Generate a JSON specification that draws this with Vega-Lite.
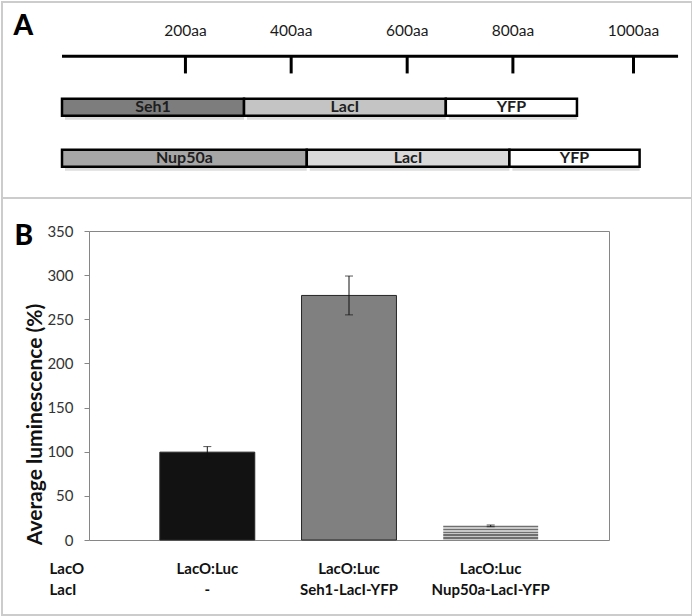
{
  "$schema": "https://vega.github.io/schema/vega-lite/v6.json",
  "padding": 1,
  "background": "white",
  "spacing": 0,
  "bounds": "flush",
  "resolve": {"scale": {"fill": "independent", "color": "independent", "stroke": "independent"}},
  "config": {"view": {"stroke": "#cccccc", "strokeWidth": 2}, "font": "Lato"},
  "datasets": {
    "ruler": [{"start": 0, "end": 1078}],
    "ticks": [
      {"aa": 216, "label": "200aa"},
      {"aa": 401, "label": "400aa"},
      {"aa": 604, "label": "600aa"},
      {"aa": 789, "label": "800aa"},
      {"aa": 1000, "label": "1000aa"}
    ],
    "segments": [
      {"construct": "Seh1-LacI-YFP", "lane": 1, "part": "Seh1", "key": "Seh1", "start": 0, "end": 318.5},
      {"construct": "Seh1-LacI-YFP", "lane": 1, "part": "LacI", "key": "LacI (Seh1 fusion)", "start": 318.5, "end": 671.6},
      {"construct": "Seh1-LacI-YFP", "lane": 1, "part": "YFP", "key": "YFP (Seh1 fusion)", "start": 671.6, "end": 901.1},
      {"construct": "Nup50a-LacI-YFP", "lane": 2, "part": "Nup50a", "key": "Nup50a", "start": 0, "end": 428.3},
      {"construct": "Nup50a-LacI-YFP", "lane": 2, "part": "LacI", "key": "LacI (Nup50a fusion)", "start": 428.3, "end": 782.9},
      {"construct": "Nup50a-LacI-YFP", "lane": 2, "part": "YFP", "key": "YFP (Nup50a fusion)", "start": 782.9, "end": 1010.7}
    ],
    "luminescence": [
      {"condition": "LacO:Luc|-", "mean": 99.5, "err": 6.3},
      {"condition": "LacO:Luc|Seh1-LacI-YFP", "mean": 277, "err": 22},
      {"condition": "LacO:Luc|Nup50a-LacI-YFP", "mean": 16, "err": 1}
    ]
  },
  "vconcat": [
    {
      "width": 690,
      "height": 196,
      "layer": [
        {
          "data": {"name": "ruler"},
          "mark": {"type": "rule", "color": "#000000", "strokeWidth": 3},
          "encoding": {
            "x": {"field": "start", "type": "quantitative", "scale": {"domain": [-105, 1102.4], "nice": false, "zero": false}, "axis": null},
            "x2": {"field": "end"},
            "y": {"datum": 0, "type": "quantitative", "scale": {"domain": [-0.9674, 2.679], "nice": false, "zero": false, "reverse": true},
              "axis": {"orient": "left", "domain": false, "ticks": false, "labels": false, "grid": false,
                "title": "A", "titleFont": "Lato", "titleFontSize": 28, "titleFontWeight": 900, "titleColor": "#000000",
                "titleX": 11, "titleY": 32, "titleAngle": 0, "titleAlign": "left", "titleBaseline": "alphabetic"}}
          }
        },
        {
          "data": {"name": "ticks"},
          "mark": {"type": "rule", "color": "#000000", "strokeWidth": 3},
          "encoding": {
            "x": {"field": "aa", "type": "quantitative", "scale": {"domain": [-105, 1102.4], "nice": false, "zero": false}, "axis": null},
            "y": {"datum": 0, "type": "quantitative"},
            "y2": {"datum": 0.335}
          }
        },
        {
          "data": {"name": "ticks"},
          "mark": {"type": "text", "font": "Lato", "fontSize": 15.5, "color": "#1a1a1a", "baseline": "middle", "align": "center"},
          "encoding": {
            "x": {"field": "aa", "type": "quantitative"},
            "y": {"datum": -0.49, "type": "quantitative"},
            "text": {"field": "label"}
          }
        },
        {
          "data": {"name": "segments"},
          "mark": {"type": "bar", "orient": "horizontal", "height": 17, "fill": "#8a8a8a", "opacity": 0.3, "xOffset": 3, "yOffset": 4},
          "encoding": {
            "x": {"field": "start", "type": "quantitative"},
            "x2": {"field": "end"},
            "y": {"field": "lane", "type": "quantitative"}
          }
        },
        {
          "data": {"name": "segments"},
          "mark": {"type": "bar", "orient": "horizontal", "height": 17, "stroke": "#000000", "strokeWidth": 2.5},
          "encoding": {
            "x": {"field": "start", "type": "quantitative"},
            "x2": {"field": "end"},
            "y": {"field": "lane", "type": "quantitative"},
            "fill": {"field": "key", "type": "nominal", "legend": null,
              "scale": {"domain": ["Seh1", "LacI (Seh1 fusion)", "YFP (Seh1 fusion)", "Nup50a", "LacI (Nup50a fusion)", "YFP (Nup50a fusion)"],
                        "range": ["#7d7d7d", "#c4c4c4", "#ffffff", "#a6a6a6", "#d9d9d9", "#ffffff"]}}
          }
        },
        {
          "data": {"name": "segments"},
          "transform": [{"calculate": "(datum.start + datum.end) / 2", "as": "mid"}],
          "mark": {"type": "text", "font": "Lato", "fontSize": 16, "fontWeight": "bold", "color": "#1e1e1e", "baseline": "middle", "align": "center"},
          "encoding": {
            "x": {"field": "mid", "type": "quantitative"},
            "y": {"field": "lane", "type": "quantitative"},
            "text": {"field": "part"}
          }
        }
      ]
    },
    {
      "width": 690,
      "height": 417,
      "data": {"name": "luminescence"},
      "layer": [
        {
          "mark": {"type": "bar", "strokeWidth": 1},
          "encoding": {
            "x": {"field": "condition", "type": "nominal", "sort": null,
              "scale": {"range": [87, 607], "paddingInner": 0.33, "paddingOuter": 0.5},
              "axis": {"orient": "bottom", "offset": -75, "domainColor": "#868686", "domainWidth": 1, "ticks": false,
                "labelExpr": "split(datum.label, '|')", "labelFont": "Lato", "labelFontSize": 15, "labelFontWeight": "bold", "labelColor": "#111111",
                "labelLineHeight": 21, "labelBaseline": "alphabetic", "labelPadding": 33, "labelAngle": 0, "labelLimit": 0, "labelOverlap": false,
                "title": ["LacO", "LacI"], "titleFont": "Lato", "titleFontSize": 15, "titleFontWeight": "bold", "titleColor": "#111111",
                "titleX": 47, "titleY": 33, "titleAlign": "left", "titleBaseline": "alphabetic", "titleLineHeight": 21, "titleAngle": 0}},
            "y": {"field": "mean", "type": "quantitative",
              "scale": {"domain": [0, 350], "range": [342, 33], "nice": false, "zero": true},
              "axis": {"orient": "left", "offset": -87, "values": [0, 50, 100, 150, 200, 250, 300, 350], "grid": false,
                "domainColor": "#868686", "tickColor": "#868686", "tickSize": 5,
                "labelFont": "Lato", "labelFontSize": 15, "labelColor": "#333333", "labelPadding": 11,
                "title": "Average luminescence (%)", "titleFont": "Lato", "titleFontSize": 21, "titleFontWeight": "bold", "titleColor": "#111111",
                "titleX": -48, "titleY": 226, "titleAngle": -90, "titleAlign": "center", "titleBaseline": "alphabetic"}},
            "fill": {
              "condition": {"test": "datum.condition === 'LacO:Luc|Nup50a-LacI-YFP'",
                "value": {"gradient": "linear", "x1": 0, "y1": 0, "x2": 0, "y2": 1, "stops": [
                  {"offset": 0, "color": "#707070"}, {"offset": 0.1, "color": "#707070"},
                  {"offset": 0.1, "color": "#c8c8c8"}, {"offset": 0.2, "color": "#c8c8c8"},
                  {"offset": 0.2, "color": "#707070"}, {"offset": 0.3, "color": "#707070"},
                  {"offset": 0.3, "color": "#c8c8c8"}, {"offset": 0.4, "color": "#c8c8c8"},
                  {"offset": 0.4, "color": "#707070"}, {"offset": 0.5, "color": "#707070"},
                  {"offset": 0.5, "color": "#c8c8c8"}, {"offset": 0.6, "color": "#c8c8c8"},
                  {"offset": 0.6, "color": "#707070"}, {"offset": 0.7, "color": "#707070"},
                  {"offset": 0.7, "color": "#c8c8c8"}, {"offset": 0.8, "color": "#c8c8c8"},
                  {"offset": 0.8, "color": "#707070"}, {"offset": 0.9, "color": "#707070"},
                  {"offset": 0.9, "color": "#c8c8c8"}, {"offset": 1, "color": "#c8c8c8"}
                ]}},
              "field": "condition", "type": "nominal", "legend": null,
              "scale": {"domain": ["LacO:Luc|-", "LacO:Luc|Seh1-LacI-YFP", "LacO:Luc|Nup50a-LacI-YFP"], "range": ["#121212", "#808080", "#a0a0a0"]}
            },
            "stroke": {"condition": {"test": "datum.condition === 'LacO:Luc|Nup50a-LacI-YFP'", "value": null}, "value": "#262626"}
          }
        },
        {
          "mark": {"type": "errorbar", "color": "#111111", "thickness": 1, "ticks": {"size": 8, "thickness": 1, "color": "#111111"}},
          "encoding": {
            "x": {"field": "condition", "type": "nominal", "sort": null,
              "axis": {"orient": "top", "offset": -33, "domainColor": "#868686", "domainWidth": 1, "ticks": false, "labels": false, "grid": false,
                "title": "B", "titleFont": "Lato", "titleFontSize": 28, "titleFontWeight": 900, "titleColor": "#000000",
                "titleX": 12, "titleY": 13, "titleAngle": 0, "titleAlign": "left", "titleBaseline": "alphabetic"}},
            "y": {"field": "mean", "type": "quantitative",
              "axis": {"orient": "right", "offset": -83, "domainColor": "#868686", "domainWidth": 1, "ticks": false, "labels": false, "title": null, "grid": false}},
            "yError": {"field": "err"}
          }
        }
      ],
      "resolve": {"axis": {"x": "independent", "y": "independent"}}
    }
  ]
}
